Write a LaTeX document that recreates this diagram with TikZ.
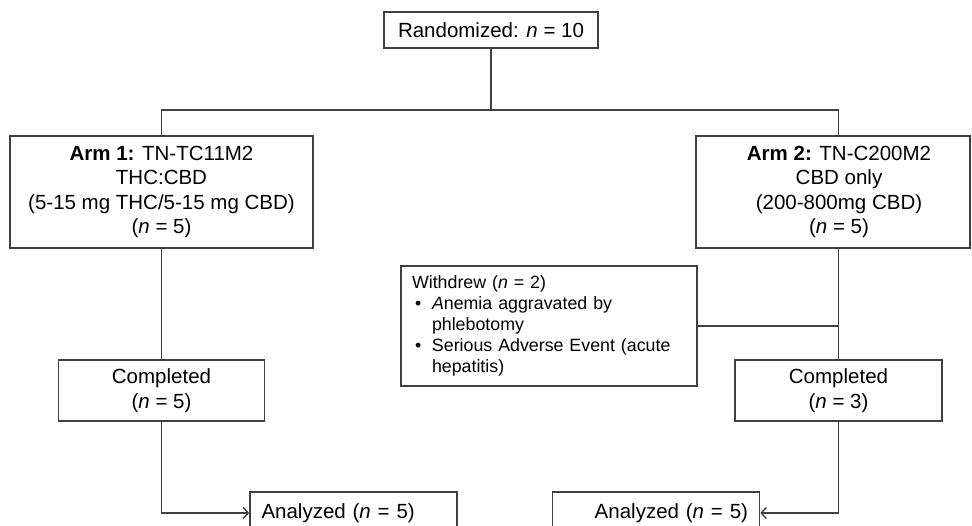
\documentclass[tikz,border=0pt]{standalone}
\usepackage{fontspec}
\setmainfont{Liberation Sans}
\usetikzlibrary{arrows.meta}

\tikzset{
	box/.style = {draw = black!75, line width = 1.7pt, inner sep = 0pt, align = center, font = \fontsize{20.5}{24.5}\selectfont},
	link/.style = {draw = black!75, line width = 1.7pt},
	arrow/.style = {link, -{Straight Barb[length = 5pt, width = 11pt, line width = 1.4pt]}}
}

\begin{document}
\begin{tikzpicture}[x = 1pt, y = -1pt]
	\useasboundingbox (0,0) rectangle (972,526);
	\clip (0,0) rectangle (972,526);
	\node[box, minimum width = 214pt, minimum height = 36pt] (rand) at (491,30) {Randomized: \textit{n} = 10};
	\coordinate (split) at (491,110);
	\node[box, minimum width = 303pt, minimum height = 112pt] (arm1) at (161.5,192) {\textbf{Arm 1:} TN-TC11M2\\THC:CBD\\(5-15 mg THC/5-15 mg CBD)\\(\textit{n} = 5)};
	\node[box, minimum width = 274pt, minimum height = 112pt] (arm2) at (833,192) {\hspace*{12pt}\textbf{Arm 2:} TN-C200M2\\\hspace*{12pt}CBD only\\\hspace*{12pt}(200-800mg CBD)\\\hspace*{12pt}(\textit{n} = 5)};
	\node[box, minimum width = 296pt, minimum height = 120pt, text width = 274pt, align = left, font = \fontsize{17.8}{21}\selectfont] (wd) at (549,326) {Withdrew (\textit{n} = 2)\\
		\makebox[20pt][l]{\hspace*{3pt}\textbullet}\textit{A}nemia aggravated by\\
		\hspace*{20pt}phlebotomy\\
		\makebox[20pt][l]{\hspace*{3pt}\textbullet}Serious Adverse Event (acute\\
		\hspace*{20pt}hepatitis)};
	\node[box, minimum width = 206pt, minimum height = 61pt] (comp1) at (161.5,390.5) {Completed\\(\textit{n} = 5)};
	\node[box, minimum width = 207pt, minimum height = 61pt] (comp2) at (838.5,390.5) {Completed\\(\textit{n} = 3)};
	\node[box, minimum width = 207pt, minimum height = 42pt, text width = 184pt, align = left] (ana1) at (353.5,513) {Analyzed (\textit{n} = 5)};
	\node[box, minimum width = 207pt, minimum height = 42pt, text width = 184pt, align = right] (ana2) at (656,513) {Analyzed (\textit{n} = 5)};
	\draw[link] (rand.south) -- (split);
	\draw[link] (arm1.north) |- (split) -| (comp2.north |- arm2.north);
	\draw[link] (arm1.south) -- (comp1.north);
	\draw[link] (comp2.north |- arm2.south) -- (comp2.north);
	\draw[link] (wd.east) -- (wd.east -| comp2);
	\draw[arrow] (comp1.south) |- (ana1.west);
	\draw[arrow] (comp2.south) |- (ana2.east);
\end{tikzpicture}
\end{document}
